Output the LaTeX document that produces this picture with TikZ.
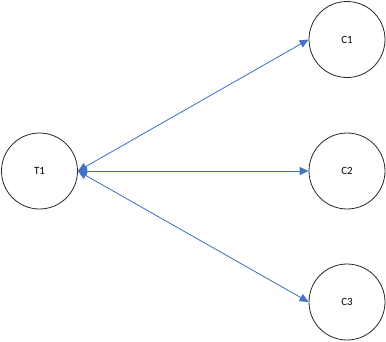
\documentclass[tikz,border=0pt]{standalone}
\usepackage{fontspec}
\setmainfont{Carlito}
\usetikzlibrary{arrows.meta}
\definecolor{linkblue}{HTML}{4472C4}
\tikzset{
  ent/.style={circle,draw=black!85,line width=0.8pt,minimum size=76pt,inner sep=0pt,font=\fontsize{11}{13}\selectfont},
  link/.style={draw=linkblue,line width=0.8pt,{Triangle[length=9pt,width=8pt]}-{Triangle[length=9pt,width=8pt]},fill=linkblue}
}
\begin{document}
\begin{tikzpicture}[x=1pt,y=-1pt]
\useasboundingbox (0,0) rectangle (386,341);
\node[ent] (t1) at (39.5,171) {T1};
\node[ent] (c1) at (347,39.5) {C1};
\node[ent] (c2) at (347,171) {C2};
\node[ent] (c3) at (347,302) {C3};
\draw[link] (t1.east) -- (c1.west);
\draw[link] (t1.east) -- (c2.west);
\draw[link] (t1.east) -- (c3.west);
\end{tikzpicture}
\end{document}
